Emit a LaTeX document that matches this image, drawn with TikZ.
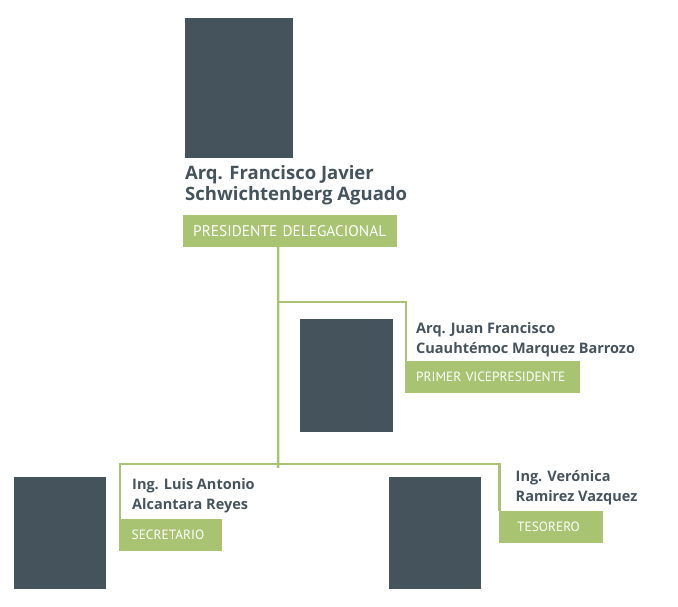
\documentclass[tikz,border=0pt]{standalone}
\usepackage{fontspec}
\setmainfont{PT Sans}
\newfontfamily\namefamily{Open Sans}
\usetikzlibrary{positioning}
\definecolor{slate}{HTML}{45535D}
\definecolor{leaf}{HTML}{A8C472}
\newcommand\bigname{\namefamily\fontsize{18.5}{21.5}\selectfont\bfseries}
\newcommand\smallname{\namefamily\fontsize{14.5}{19.5}\selectfont\bfseries}
\newcommand\rolefont{\fontsize{13.4}{16}\selectfont}
\tikzset{
    photo/.style={fill=slate, draw=none, inner sep=0pt, anchor=north west},
    person/.style={text=slate, align=left, inner sep=0pt, anchor=base west},
    role/.style={fill=leaf, text=white, font=\rolefont, anchor=north west,
        minimum height=32pt, align=left},
    link/.style={draw=leaf, line width=2.5pt}
}

\begin{document}
\begin{tikzpicture}[x=1pt,y=-1pt]
	\useasboundingbox (0,0) rectangle (678,606);
	% presidente
	\node[photo, minimum width=108pt, minimum height=140pt] (presphoto) at (185,18) {};
	\node[person, font=\bigname] (presname) at (185,200.7) {Arq. Francisco Javier\\Schwichtenberg Aguado};
	\node[role, inner xsep=10pt, text width=194pt, font=\fontsize{15.4}{17}\selectfont] (presrole) at (183,214.5) {\mbox{PRESIDENTE DELEGACIONAL}};
	% vicepresidente
	\node[photo, minimum width=93pt, minimum height=113pt] (vicephoto) at (300,319) {};
	\node[person, font=\smallname] (vicename) at (416,353.3) {Arq. Juan Francisco\\Cuauhtémoc Marquez Barrozo};
	\node[role, inner xsep=11pt, text width=153pt] (vicerole) at (405,361) {\mbox{PRIMER VICEPRESIDENTE}};
	% secretario
	\node[photo, minimum width=92pt, minimum height=112pt] (secphoto) at (14,477) {};
	\node[person, font=\smallname] (secname) at (132,509) {Ing. Luis Antonio\\Alcantara Reyes};
	\node[role, inner xsep=12.5pt, text width=78pt] (secrole) at (119,519) {\mbox{SECRETARIO}};
	% tesorero
	\node[photo, minimum width=92pt, minimum height=112pt] (tesphoto) at (389,477) {};
	\node[person, font=\smallname] (tesname) at (515.5,501) {Ing. Verónica\\Ramirez Vazquez};
	\node[role, inner xsep=18pt, text width=68pt] (tesrole) at (499,511) {\mbox{TESORERO}};
	% lineas
	\coordinate (trunk) at ([xshift=-12pt]presrole.south);
	\coordinate (fork) at (278,302);
	\coordinate (hub) at (278,464);
	\draw[link] (trunk) -- ([yshift=-4pt]hub);
	\draw[link] (fork) -| ([xshift=1pt]vicerole.north west);
	\draw[link] ([xshift=1pt]secrole.north west) |- (hub) -| ([xshift=0.5pt]tesrole.north west);
\end{tikzpicture}
\end{document}
